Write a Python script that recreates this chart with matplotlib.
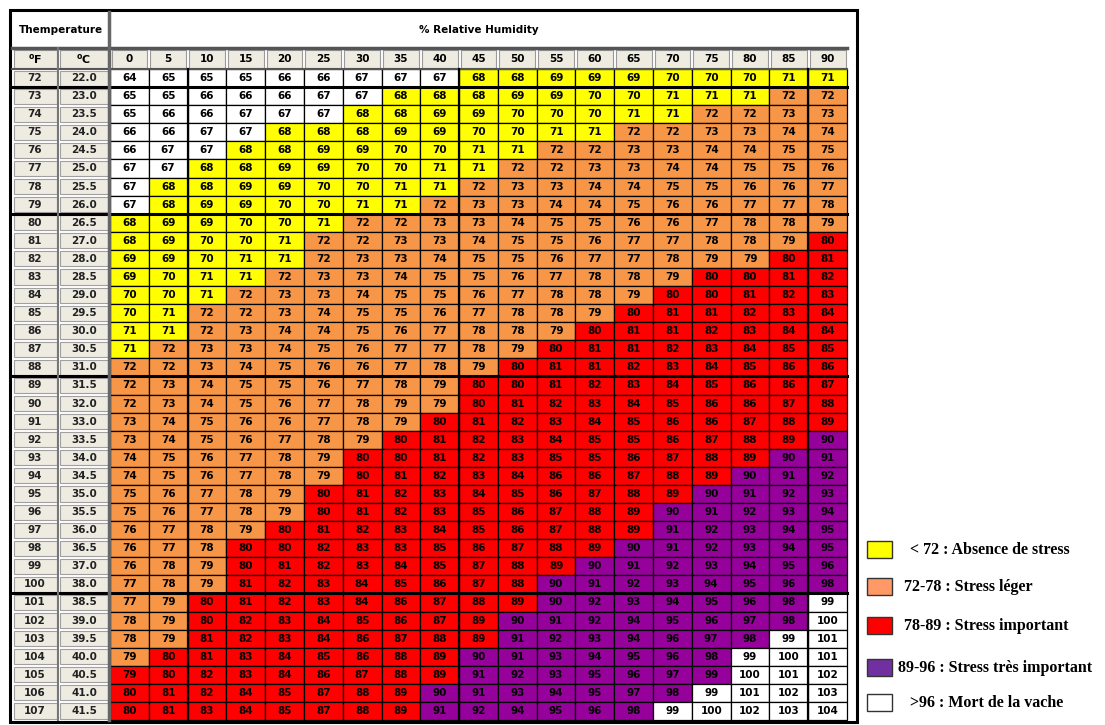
import matplotlib.pyplot as plt
from matplotlib.patches import Rectangle

# Temperature rows (°F / °C) and relative humidity columns (%)
temp_f = list(range(72, 108))
temp_c = [22.0, 23.0, 23.5, 24.0, 24.5, 25.0, 25.5, 26.0, 26.5, 27.0, 28.0, 28.5,
          29.0, 29.5, 30.0, 30.5, 31.0, 31.5, 32.0, 33.0, 33.5, 34.0, 34.5, 35.0,
          35.5, 36.0, 36.5, 37.0, 38.0, 38.5, 39.0, 39.5, 40.0, 40.5, 41.0, 41.5]
humidity = list(range(0, 95, 5))

# THI values, one list per temperature row
thi = [
    [64, 65, 65, 65, 66, 66, 67, 67, 67, 68, 68, 69, 69, 69, 70, 70, 70, 71, 71],
    [65, 65, 66, 66, 66, 67, 67, 68, 68, 68, 69, 69, 70, 70, 71, 71, 71, 72, 72],
    [65, 66, 66, 67, 67, 67, 68, 68, 69, 69, 70, 70, 70, 71, 71, 72, 72, 73, 73],
    [66, 66, 67, 67, 68, 68, 68, 69, 69, 70, 70, 71, 71, 72, 72, 73, 73, 74, 74],
    [66, 67, 67, 68, 68, 69, 69, 70, 70, 71, 71, 72, 72, 73, 73, 74, 74, 75, 75],
    [67, 67, 68, 68, 69, 69, 70, 70, 71, 71, 72, 72, 73, 73, 74, 74, 75, 75, 76],
    [67, 68, 68, 69, 69, 70, 70, 71, 71, 72, 73, 73, 74, 74, 75, 75, 76, 76, 77],
    [67, 68, 69, 69, 70, 70, 71, 71, 72, 73, 73, 74, 74, 75, 76, 76, 77, 77, 78],
    [68, 69, 69, 70, 70, 71, 72, 72, 73, 73, 74, 75, 75, 76, 76, 77, 78, 78, 79],
    [68, 69, 70, 70, 71, 72, 72, 73, 73, 74, 75, 75, 76, 77, 77, 78, 78, 79, 80],
    [69, 69, 70, 71, 71, 72, 73, 73, 74, 75, 75, 76, 77, 77, 78, 79, 79, 80, 81],
    [69, 70, 71, 71, 72, 73, 73, 74, 75, 75, 76, 77, 78, 78, 79, 80, 80, 81, 82],
    [70, 70, 71, 72, 73, 73, 74, 75, 75, 76, 77, 78, 78, 79, 80, 80, 81, 82, 83],
    [70, 71, 72, 72, 73, 74, 75, 75, 76, 77, 78, 78, 79, 80, 81, 81, 82, 83, 84],
    [71, 71, 72, 73, 74, 74, 75, 76, 77, 78, 78, 79, 80, 81, 81, 82, 83, 84, 84],
    [71, 72, 73, 73, 74, 75, 76, 77, 77, 78, 79, 80, 81, 81, 82, 83, 84, 85, 85],
    [72, 72, 73, 74, 75, 76, 76, 77, 78, 79, 80, 81, 81, 82, 83, 84, 85, 86, 86],
    [72, 73, 74, 75, 75, 76, 77, 78, 79, 80, 80, 81, 82, 83, 84, 85, 86, 86, 87],
    [72, 73, 74, 75, 76, 77, 78, 79, 79, 80, 81, 82, 83, 84, 85, 86, 86, 87, 88],
    [73, 74, 75, 76, 76, 77, 78, 79, 80, 81, 82, 83, 84, 85, 86, 86, 87, 88, 89],
    [73, 74, 75, 76, 77, 78, 79, 80, 81, 82, 83, 84, 85, 85, 86, 87, 88, 89, 90],
    [74, 75, 76, 77, 78, 79, 80, 80, 81, 82, 83, 85, 85, 86, 87, 88, 89, 90, 91],
    [74, 75, 76, 77, 78, 79, 80, 81, 82, 83, 84, 86, 86, 87, 88, 89, 90, 91, 92],
    [75, 76, 77, 78, 79, 80, 81, 82, 83, 84, 85, 86, 87, 88, 89, 90, 91, 92, 93],
    [75, 76, 77, 78, 79, 80, 81, 82, 83, 85, 86, 87, 88, 89, 90, 91, 92, 93, 94],
    [76, 77, 78, 79, 80, 81, 82, 83, 84, 85, 86, 87, 88, 89, 91, 92, 93, 94, 95],
    [76, 77, 78, 80, 80, 82, 83, 83, 85, 86, 87, 88, 89, 90, 91, 92, 93, 94, 95],
    [76, 78, 79, 80, 81, 82, 83, 84, 85, 87, 88, 89, 90, 91, 92, 93, 94, 95, 96],
    [77, 78, 79, 81, 82, 83, 84, 85, 86, 87, 88, 90, 91, 92, 93, 94, 95, 96, 98],
    [77, 79, 80, 81, 82, 83, 84, 86, 87, 88, 89, 90, 92, 93, 94, 95, 96, 98, 99],
    [78, 79, 80, 82, 83, 84, 85, 86, 87, 89, 90, 91, 92, 94, 95, 96, 97, 98, 100],
    [78, 79, 81, 82, 83, 84, 86, 87, 88, 89, 91, 92, 93, 94, 96, 97, 98, 99, 101],
    [79, 80, 81, 83, 84, 85, 86, 88, 89, 90, 91, 93, 94, 95, 96, 98, 99, 100, 101],
    [79, 80, 82, 83, 84, 86, 87, 88, 89, 91, 92, 93, 95, 96, 97, 99, 100, 101, 102],
    [80, 81, 82, 84, 85, 87, 88, 89, 90, 91, 93, 94, 95, 97, 98, 99, 101, 102, 103],
    [80, 81, 83, 84, 85, 87, 88, 89, 91, 92, 94, 95, 96, 98, 99, 100, 102, 103, 104],
]

# colour class limits (lower bound of each class) and cells coloured differently in the source
class_bounds = [68, 72, 80, 90, 99]
overrides = {(33, 0): 3, (33, 15): 4}   # (row, col) -> class index

legend_labels = ['< 72 : Absence de stress', '72-78 : Stress léger', '78-89 : Stress important',
                 '89-96 : Stress très important', '>96 : Mort de la vache']

cell_colors = ['white', '#FFFF00', '#F79646', '#FF0000', '#96009B', 'white']
legend_colors = ['#FFFF00', '#FF9966', '#FF0000', '#7030A0', 'white']
beige = '#EEECE1'


def thi_class(v):
    k = 0
    for b in class_bounds:
        if v >= b:
            k += 1
    return k


fig = plt.figure(figsize=(11.05, 7.25), dpi=100)
ax = fig.add_axes([0, 0, 1, 1])
ax.set_xlim(0, 1105)
ax.set_ylim(725, 0)
ax.axis('off')

x_f, x_c, x_h = 12, 58, 110
col_w = (847 - x_h) / len(humidity)
y_h1, y_h2, y_d = 12, 48, 69
row_h = (720 - y_d) / len(temp_f)
x_end = x_h + col_w * len(humidity)

# header row 1
ax.text((x_f + x_h) / 2, (y_h1 + y_h2) / 2, 'Themperature', ha='center', va='center',
        fontsize=7.5, fontweight='bold')
ax.text((x_h + x_end) / 2, (y_h1 + y_h2) / 2, '% Relative Humidity', ha='center', va='center',
        fontsize=7.5, fontweight='bold')

# header row 2
for x0, w, lab in [(x_f, x_c - x_f, r'$^{\mathbf{o}}$F'), (x_c, x_h - x_c, r'$^{\mathbf{o}}$C')]:
    ax.add_patch(Rectangle((x0 + 1.5, y_h2 + 1.5), w - 3, y_d - y_h2 - 3, facecolor=beige,
                           edgecolor='#999999', lw=0.8))
    ax.text(x0 + w / 2, (y_h2 + y_d) / 2, lab, ha='center', va='center', fontsize=8, fontweight='bold')
for j, h in enumerate(humidity):
    x0 = x_h + j * col_w
    ax.add_patch(Rectangle((x0 + 1.5, y_h2 + 1.5), col_w - 3, y_d - y_h2 - 3, facecolor=beige,
                           edgecolor='#999999', lw=0.8))
    ax.text(x0 + col_w / 2, (y_h2 + y_d) / 2, str(h), ha='center', va='center',
            fontsize=7.5, fontweight='bold')

# data rows
for i, (tf, tc) in enumerate(zip(temp_f, temp_c)):
    y0 = y_d + i * row_h
    yc = y0 + row_h / 2
    for x0, w, lab in [(x_f, x_c - x_f, str(tf)), (x_c, x_h - x_c, f'{tc:.1f}')]:
        ax.add_patch(Rectangle((x0 + 1.5, y0 + 1.5), w - 3, row_h - 3, facecolor=beige,
                               edgecolor='#A0A0A0', lw=0.8))
        ax.text(x0 + w / 2, yc, lab, ha='center', va='center', fontsize=7.5,
                fontweight='bold', color='#222222')
    for j, v in enumerate(thi[i]):
        x0 = x_h + j * col_w
        k = overrides.get((i, j), thi_class(v))
        ax.add_patch(Rectangle((x0, y0), col_w, row_h, facecolor=cell_colors[k],
                               edgecolor='black', lw=0.9))
        ax.text(x0 + col_w / 2, yc, str(v), ha='center', va='center', fontsize=7.5,
                fontweight='bold', color='black')

# heavier rule lines
for r in [1, 8, 17, 29]:
    y = y_d + r * row_h
    ax.plot([x_f, x_end], [y, y], color='black', lw=2.2)
ax.plot([x_f, x_end], [y_h2, y_h2], color='#555555', lw=2.5)
ax.plot([x_f, x_end], [y_d, y_d], color='#555555', lw=1.5)
ax.plot([x_h - 1, x_h - 1], [y_h1, 720], color='#666666', lw=2.5)
ax.plot([x_c, x_c], [y_h2, 720], color='#777777', lw=1.5)
for j in [2, 9, 18]:
    x = x_h + j * col_w
    ax.plot([x, x], [y_d, 720], color='black', lw=1.6)

# outer frame
ax.add_patch(Rectangle((10, 10), 847, 712, facecolor='none', edgecolor='black', lw=2.2))

# legend
leg_y = [549, 586, 625, 667, 702]
leg_tx = [910, 904, 904, 898, 910]
for c, lab, y, tx in zip(legend_colors, legend_labels, leg_y, leg_tx):
    ax.add_patch(Rectangle((867, y - 8.5), 25, 17, facecolor=c, edgecolor='#333333', lw=1.0))
    ax.text(tx, y + 1, lab, ha='left', va='center', fontsize=11.5, fontweight='bold',
            family='Liberation Serif')

fig.savefig('out.png', dpi=100)
